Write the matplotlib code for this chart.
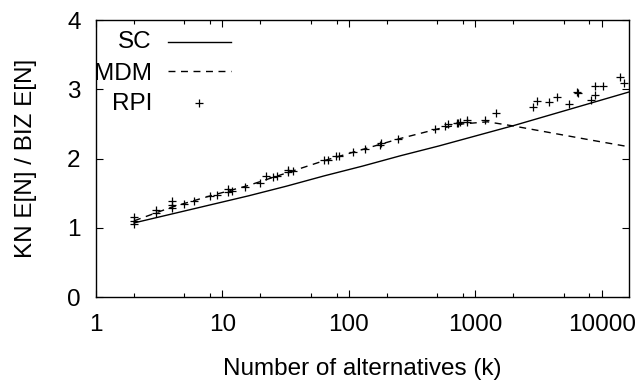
#!/usr/bin/env python3

import matplotlib
matplotlib.use("Agg")
import matplotlib.pyplot as plt
from matplotlib.lines import Line2D
from matplotlib.ticker import LogLocator, FixedLocator, NullFormatter

plt.rcParams['font.family'] = ['Liberation Sans', 'DejaVu Sans']

# SC curve (solid)
sc_k = [2, 4, 8, 16, 32, 64, 128, 256, 512, 1024, 2048, 4096, 8192, 16384]
sc_val = [1.07, 1.20, 1.33, 1.46, 1.60, 1.75, 1.89, 2.04, 2.18, 2.33, 2.48, 2.64, 2.80, 2.96]

# MDM curve (dashed)
mdm_k = [2, 4, 8, 16, 32, 64, 128, 256, 512, 800, 1250, 2000, 4000, 8000, 16384]
mdm_val = [1.10, 1.30, 1.46, 1.61, 1.79, 1.97, 2.13, 2.29, 2.43, 2.50, 2.53, 2.47, 2.37, 2.27, 2.17]

# RPI points
rpi_k = [2, 2, 2, 3, 3, 4, 4, 4, 5, 6, 8, 9, 11, 11, 12, 15, 20, 22, 25, 27,
         33, 33, 36, 64, 69, 79, 84, 107, 134, 177, 180, 246, 480, 577, 612,
         718, 735, 757, 855, 860, 1193, 1455, 2840, 3100, 3860, 4400, 5460,
         6400, 6450, 8200, 8850, 8850, 10300, 13900, 15100]
rpi_val = [1.15, 1.10, 1.05, 1.26, 1.22, 1.38, 1.33, 1.28, 1.34, 1.38, 1.46, 1.48,
           1.56, 1.52, 1.53, 1.59, 1.64, 1.75, 1.74, 1.75, 1.83, 1.81, 1.82, 1.98,
           1.98, 2.04, 2.04, 2.09, 2.14, 2.20, 2.22, 2.28, 2.42, 2.47, 2.50, 2.52,
           2.52, 2.53, 2.53, 2.55, 2.56, 2.66, 2.75, 2.83, 2.82, 2.89, 2.79, 2.96,
           2.95, 2.84, 2.92, 3.04, 3.05, 3.17, 3.09]

fs = 17.5

fig = plt.figure(figsize=(6.43, 3.82), dpi=100)
ax = fig.add_axes([0.1493, 0.2225, 0.8287, 0.7251])

ax.plot(sc_k, sc_val, color='black', lw=1.0)
ax.plot(mdm_k, mdm_val, color='black', lw=1.0, dashes=(5, 4))
ax.plot(rpi_k, rpi_val, ls='none', marker='+', ms=5.5, mew=0.9, color='black')

ax.set_xscale('log')
ax.set_xlim(1, 16384)
ax.set_ylim(0, 4)

ax.xaxis.set_major_locator(FixedLocator([1, 10, 100, 1000, 10000]))
ax.xaxis.set_minor_locator(LogLocator(base=10, subs=(2, 5, 8)))
ax.xaxis.set_minor_formatter(NullFormatter())
ax.set_xticklabels(['1', '10', '100', '1000', '10000'])
ax.set_yticks([0, 1, 2, 3, 4])

ax.tick_params(which='both', direction='in', top=True, right=True, labelsize=fs, width=0.8)
ax.tick_params(axis='x', which='major', length=5, pad=12)
ax.tick_params(axis='y', which='major', length=5, pad=11)
ax.tick_params(which='minor', length=3)
for s in ax.spines.values():
    s.set_linewidth(1.0)

ax.set_xlabel('Number of alternatives (k)', fontsize=fs, labelpad=16)
ax.set_ylabel('KN E[N] / BIZ E[N]', fontsize=fs, labelpad=22)

# legend, gnuplot style: right-aligned labels followed by the sample
tr = ax.transAxes
ax.text(0.105, 0.898, 'SC', transform=tr, ha='right', va='baseline', fontsize=fs)
ax.text(0.105, 0.785, 'MDM', transform=tr, ha='right', va='baseline', fontsize=fs)
ax.text(0.105, 0.675, 'RPI', transform=tr, ha='right', va='baseline', fontsize=fs)
ax.add_line(Line2D([0.135, 0.253], [0.922, 0.922], transform=tr, color='black', lw=1.0))
ax.add_line(Line2D([0.135, 0.253], [0.816, 0.816], transform=tr, color='black', lw=1.0,
                   dashes=(5, 4)))
ax.add_line(Line2D([0.194], [0.701], transform=tr, ls='none', marker='+', ms=5.5, mew=0.9,
                   color='black'))

fig.savefig('out.png', dpi=100)
